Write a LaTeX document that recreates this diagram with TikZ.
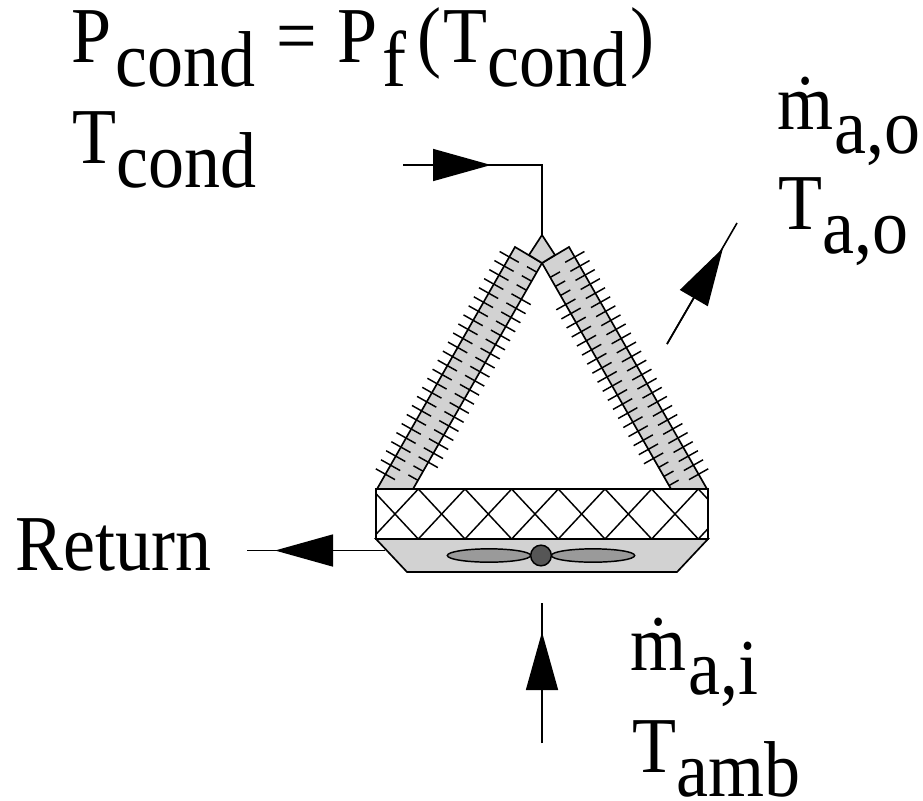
\documentclass[tikz,border=0pt]{standalone}
\usepackage{graphicx}
\usepackage{fontspec}
\setmainfont{Liberation Serif}
\usetikzlibrary{arrows.meta,calc,shapes.geometric}
\newcommand{\lowtxt}[1]{\raisebox{-17pt}{#1}}
\newcommand{\talltxt}[1]{\scalebox{1}[1.1]{#1}}
\definecolor{bandgray}{HTML}{D2D2D2}
\definecolor{bladegray}{HTML}{9A9A9A}
\definecolor{hubgray}{HTML}{565656}
\tikzset{
  txt/.style={anchor=base west,inner sep=0pt,font=\fontsize{54}{60}\selectfont},
  wire/.style={draw=black,line width=1.2pt},
  outline/.style={draw=black,line width=1.25pt,line join=miter},
  fin/.style={draw=black,line width=1.1pt},
  flowtip/.style={-{Triangle[length=43.5pt,width=24pt]},draw=black,line width=1.2pt},
  blade/.style={draw=black,line width=1.1pt,fill=bladegray,ellipse,minimum width=62.5pt,minimum height=10pt,inner sep=0pt},
}
\begin{document}
\begin{tikzpicture}[x=0.75pt,y=-0.75pt]
\useasboundingbox (0,0) rectangle (923,800);
% named points
\coordinate (la) at (377,489); \coordinate (lb) at (515,247);
\coordinate (lc) at (413,489); \coordinate (tip) at (542,263);
\coordinate (ra) at (707,489); \coordinate (rb) at (569,247);
\coordinate (rc) at (671,489);
\coordinate (dt) at (542,235); \coordinate (dl) at (529,255); \coordinate (dr) at (555,255);
% bands
\fill[bandgray] (la) -- (lb) -- (tip) -- (lc) -- cycle;
\fill[bandgray] (ra) -- (rb) -- (tip) -- (rc) -- cycle;
% fins, outer edges
\foreach \k in {0,...,24}{
  \pgfmathsetmacro\s{17+10.42*\k}
  \pgfmathsetmacro\dy{\s*0.869}
  \pgfmathsetmacro\dx{\s*0.495}
  \draw[fin] ({377+\dx-9.6},{489-\dy-5.4}) -- ({377+\dx+9.6},{489-\dy+5.4});
  \draw[fin] ({707-\dx+9.6},{489-\dy-5.4}) -- ({707-\dx-9.6},{489-\dy+5.4});
}
% fins, inner edges, left band
\foreach \k in {0,...,23}{
  \pgfmathsetmacro\s{10+10.42*\k}
  \pgfmathsetmacro\dy{\s*0.869}
  \pgfmathsetmacro\dx{\s*0.495}
  \pgfmathsetmacro\ext{(\k<2 || \k>20) ? 0 : 1}
  \draw[fin] ({413+\dx-9.6},{489-\dy-5.4}) -- ({413+\dx+9.6*\ext},{489-\dy+5.4*\ext});
}
% fins, inner edges, right band
\foreach \k in {0,...,23}{
  \pgfmathsetmacro\s{4+10.42*\k}
  \pgfmathsetmacro\dy{\s*0.869}
  \pgfmathsetmacro\dx{\s*0.495}
  \pgfmathsetmacro\ext{(\k<3 || \k>20) ? 0 : 1}
  \draw[fin] ({671-\dx+9.6},{489-\dy-5.4}) -- ({671-\dx-9.6*\ext},{489-\dy+5.4*\ext});
}
% band outlines
\draw[outline] (la) -- (lb) -- (tip) -- (lc);
\draw[outline] (ra) -- (rb) -- (tip) -- (rc);
\filldraw[outline,fill=bandgray] (dt) -- (dr) -- (tip) -- (dl) -- cycle;
% coil
\coordinate (boxnw) at (376,489); \coordinate (boxse) at (708,539);
\begin{scope}
  \clip (boxnw) rectangle (boxse);
  \foreach \k in {-1,...,7}{
    \pgfmathsetmacro\xa{418.3+46.67*\k}
    \draw[fin] (\xa,489) -- ({\xa-46.67},539);
    \draw[fin] (\xa,489) -- ({\xa+46.67},539);
  }
\end{scope}
\draw[outline] (boxnw) rectangle (boxse);
% fan housing
\coordinate (hl) at (376,539); \coordinate (hbl) at (407,572);
\coordinate (hbr) at (677,572); \coordinate (hr) at (708,539);
\filldraw[outline,fill=bandgray] (hl) -- (hbl) -- (hbr) -- (hr) -- cycle;
\node[blade] (bladeL) at (489,555.5) {};
\node[blade] (bladeR) at (593,555.5) {};
\node[draw=black,line width=1.1pt,fill=hubgray,circle,minimum size=15.5pt,inner sep=0pt] (hub) at (541,555.5) {};
% connectors
\coordinate (in0) at (403,165); \coordinate (intip) at (491,165);
\draw[wire] (in0) -| (dt);
\draw[flowtip] (in0) -- (intip);
\coordinate (ret0) at (385,550.5); \coordinate (ret1) at (247,550.5); \coordinate (rettip) at (275,550.5);
\draw[wire] (ret0) -- (ret1);
\draw[flowtip] (ret0) -- (rettip);
\coordinate (up0) at (542,743); \coordinate (up1) at (542,603); \coordinate (uptip) at (542,632);
\draw[wire] (up0) -- (up1);
\draw[flowtip] (up0) -- (uptip);
\coordinate (dg0) at (667,344); \coordinate (dg1) at (737,223); \coordinate (dgtip) at (723,248);
\draw[wire] (dg0) -- (dg1);
\draw[flowtip] (dg0) -- (dgtip);
% labels
\node[txt] (pcond) at (71,62) {\talltxt{P\hspace{3pt}\lowtxt{cond}\hspace{16pt}=\hspace{15pt}P\hspace{4pt}\lowtxt{f}\hspace{8pt}(\hspace{2pt}T\lowtxt{cond}\hspace{2pt})}};
\node[txt] (tcond) at (72,163) {\talltxt{T\lowtxt{cond}}};
\node[txt] (mao) at (777,129) {\talltxt{ṁ\hspace{1pt}\lowtxt{a,o}}};
\node[txt] (tao) at (778,229) {\talltxt{T\lowtxt{a,o}}};
\node[txt] (ret) at (15,570) {\talltxt{Return}};
\node[txt] (mai) at (630,670) {\talltxt{ṁ\hspace{2pt}\lowtxt{a,i}}};
\node[txt] (tamb) at (632,772) {\talltxt{T\lowtxt{amb}}};
\end{tikzpicture}
\end{document}
